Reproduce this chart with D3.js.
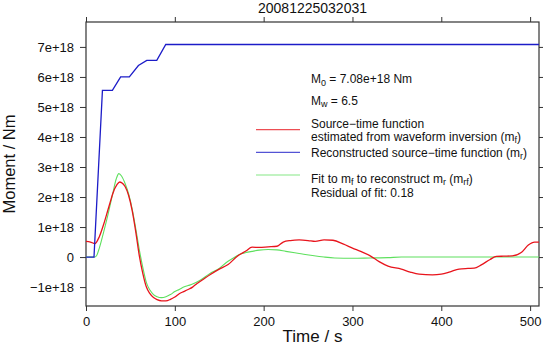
<!DOCTYPE html>
<html lang="en">
<head>
<meta charset="UTF-8">
<title>20081225032031</title>
<style>
  body { margin: 0; background: #fff; }
  svg text { font-family: "Liberation Sans", Arial, sans-serif; fill: #111; }
</style>
</head>
<body>
<svg width="545" height="353" id="svg"></svg>
<script src="https://d3js.org/d3.v7.min.js"></script>
<script>
// all moments in units of 1e18 Nm
const title = "20081225032031"
const xTicks = [0, 100, 200, 300, 400, 500]
const yTicks = [-1, 0, 1, 2, 3, 4, 5, 6, 7]

// source-time function from waveform inversion (m_f)
const redTime = [0, 5, 10, 15, 20, 25, 27, 30, 35, 38, 40, 44, 48, 52, 56, 60, 64, 68, 72, 76, 80, 85, 90, 95,
  100, 105, 110, 115, 120, 125, 130, 140, 150, 160, 170, 180, 187, 195, 205, 215, 222, 230, 240, 250, 258,
  268, 278, 290, 300, 310, 320, 330, 340, 355, 365, 375, 390, 400, 410, 420, 430, 437, 445, 455, 462, 470,
  480, 490, 498, 505, 510]
const redVal = [0.52, 0.5, 0.45, 0.68, 1.1, 1.6, 1.8, 2.1, 2.42, 2.5, 2.48, 2.35, 2.05, 1.55, 0.85, 0.05,
  -0.55, -1.0, -1.22, -1.35, -1.42, -1.46, -1.46, -1.41, -1.33, -1.22, -1.15, -1.08, -1.0, -0.88, -0.78,
  -0.58, -0.4, -0.25, 0.02, 0.2, 0.33, 0.32, 0.34, 0.36, 0.5, 0.55, 0.57, 0.55, 0.52, 0.57, 0.56, 0.43, 0.3,
  0.18, 0.04, -0.15, -0.3, -0.4, -0.5, -0.57, -0.59, -0.57, -0.49, -0.4, -0.38, -0.37, -0.26, -0.08, 0.02,
  0.03, 0.04, 0.15, 0.4, 0.5, 0.5]

// reconstructed source-time function (m_r)
const blueTime = [0, 9, 18.5, 29.7, 39, 48.8, 59, 68.4, 79.7, 89.8, 510]
const blueVal = [0, 0, 5.55, 5.55, 6.0, 6.0, 6.38, 6.55, 6.55, 7.08, 7.08]

// fit to m_f (m_rf)
const greenTime = [0, 10, 12, 15, 20, 25, 30, 34, 37, 40, 44, 48, 52, 56, 60, 64, 68, 72, 76, 80, 85, 90, 95,
  100, 105, 110, 115, 120, 128, 140, 150, 158, 165, 172, 180, 187, 195, 205, 215, 225, 240, 255, 268, 280,
  300, 320, 340, 355, 400, 460, 510]
const greenVal = [0, 0, 0.05, 0.3, 0.85, 1.45, 2.1, 2.6, 2.78, 2.7, 2.45, 2.1, 1.6, 0.95, 0.25, -0.35, -0.85,
  -1.1, -1.25, -1.32, -1.35, -1.32, -1.25, -1.15, -1.08, -1.0, -0.95, -0.9, -0.78, -0.54, -0.38, -0.18, -0.05,
  0.08, 0.15, 0.19, 0.23, 0.25, 0.24, 0.19, 0.12, 0.05, 0.0, -0.03, -0.04, -0.03, -0.02, 0, 0, 0, 0]

const svg = d3.select("svg#svg")
const box = { left: 86, right: 539, top: 22, bottom: 306 }

const x = d3.scaleLinear().domain([0, 510]).range([box.left, box.right])
const y = d3.scaleLinear().domain([-1.63, 7.83]).range([box.bottom, box.top])

const fmt = d => d === 0 ? "0" : (d < 0 ? "\u2212" + (-d) : d) + "e+18"

// axes, ticks outward on all sides
const axisColor = "#333"
function styleAxis(g) {
  g.select(".domain").remove()
  g.selectAll("line").attr("stroke", axisColor)
  g.selectAll("text").attr("font-size", 13).attr("font-family", "Liberation Sans, Arial, sans-serif").attr("fill", "#111")
}
svg.append("g").attr("transform", `translate(0,${box.bottom})`)
  .call(d3.axisBottom(x).tickValues(xTicks).tickSize(5).tickPadding(6).tickFormat(d3.format("d"))).call(styleAxis)
svg.append("g").attr("transform", `translate(0,${box.top})`)
  .call(d3.axisTop(x).tickValues(xTicks).tickSize(5).tickFormat("")).call(styleAxis)
svg.append("g").attr("transform", `translate(${box.left},0)`)
  .call(d3.axisLeft(y).tickValues(yTicks).tickSize(6).tickPadding(6).tickFormat(fmt)).call(styleAxis)
svg.append("g").attr("transform", `translate(${box.right},0)`)
  .call(d3.axisRight(y).tickValues(yTicks).tickSize(4).tickFormat("")).call(styleAxis)

svg.append("rect")
  .attr("x", box.left).attr("y", box.top)
  .attr("width", box.right - box.left).attr("height", box.bottom - box.top)
  .attr("fill", "none").attr("stroke", axisColor).attr("stroke-width", 1.2)

// clip for curves
svg.append("clipPath").attr("id", "clip").append("rect")
  .attr("x", box.left).attr("y", box.top)
  .attr("width", box.right - box.left).attr("height", box.bottom - box.top)

const smooth = d3.line().x(d => x(d[0])).y(d => y(d[1])).curve(d3.curveMonotoneX)
const straight = d3.line().x(d => x(d[0])).y(d => y(d[1]))

const plot = svg.append("g").attr("clip-path", "url(#clip)")
plot.append("path").datum(d3.zip(greenTime, greenVal))
  .attr("fill", "none").attr("stroke", "#5ee05e").attr("stroke-width", 1.1).attr("d", smooth)
plot.append("path").datum(d3.zip(redTime, redVal))
  .attr("fill", "none").attr("stroke", "#e8141c").attr("stroke-width", 1.3).attr("d", smooth)
plot.append("path").datum(d3.zip(blueTime, blueVal))
  .attr("fill", "none").attr("stroke", "#1c1cc8").attr("stroke-width", 1.3).attr("d", straight)

// title and axis labels
svg.append("text").attr("x", (box.left + box.right) / 2).attr("y", 13)
  .attr("text-anchor", "middle").attr("font-size", 14).text(title)
svg.append("text").attr("x", (box.left + box.right) / 2).attr("y", 342)
  .attr("text-anchor", "middle").attr("font-size", 17).text("Time / s")
svg.append("text").attr("transform", `translate(15,${(box.top + box.bottom) / 2}) rotate(-90)`)
  .attr("text-anchor", "middle").attr("font-size", 16.5).text("Moment / Nm")

// annotation + legend, strings are normal text, {sub} objects are subscripts
function rich(sel, parts) {
  let shifted = false
  parts.forEach(p => {
    if (typeof p === "string") {
      const t = sel.append("tspan").text(p)
      if (shifted) t.attr("dy", -2.5)
      shifted = false
    } else {
      sel.append("tspan").attr("dy", 2.5).attr("font-size", 9).text(p.sub)
      shifted = true
    }
  })
}
const tx = 311
const lg = svg.append("g").attr("font-size", 12)
rich(lg.append("text").attr("x", tx).attr("y", 83), ["M", { sub: "0" }, " = 7.08e+18 Nm"])
rich(lg.append("text").attr("x", tx).attr("y", 104.5), ["M", { sub: "w" }, " = 6.5"])
lg.append("text").attr("x", tx).attr("y", 127.5).text("Source\u2212time function")
rich(lg.append("text").attr("x", tx).attr("y", 140.5), ["estimated from waveform inversion (m", { sub: "f" }, ")"])
rich(lg.append("text").attr("x", tx).attr("y", 156.5), ["Reconstructed source\u2212time function (m", { sub: "r" }, ")"])
rich(lg.append("text").attr("x", tx).attr("y", 182.5), ["Fit to m", { sub: "f" }, " to reconstruct m", { sub: "r" }, " (m", { sub: "rf" }, ")"])
lg.append("text").attr("x", tx).attr("y", 197).text("Residual of fit: 0.18")

const legendLines = [["#e8141c", 129.7], ["#1c1cc8", 152.3], ["#5ee05e", 175]]
lg.selectAll("line.key").data(legendLines).enter().append("line")
  .attr("x1", 256).attr("x2", 300)
  .attr("y1", d => d[1]).attr("y2", d => d[1])
  .attr("stroke", d => d[0]).attr("stroke-width", 1.2).attr("opacity", 0.75)
</script>
</body>
</html>
